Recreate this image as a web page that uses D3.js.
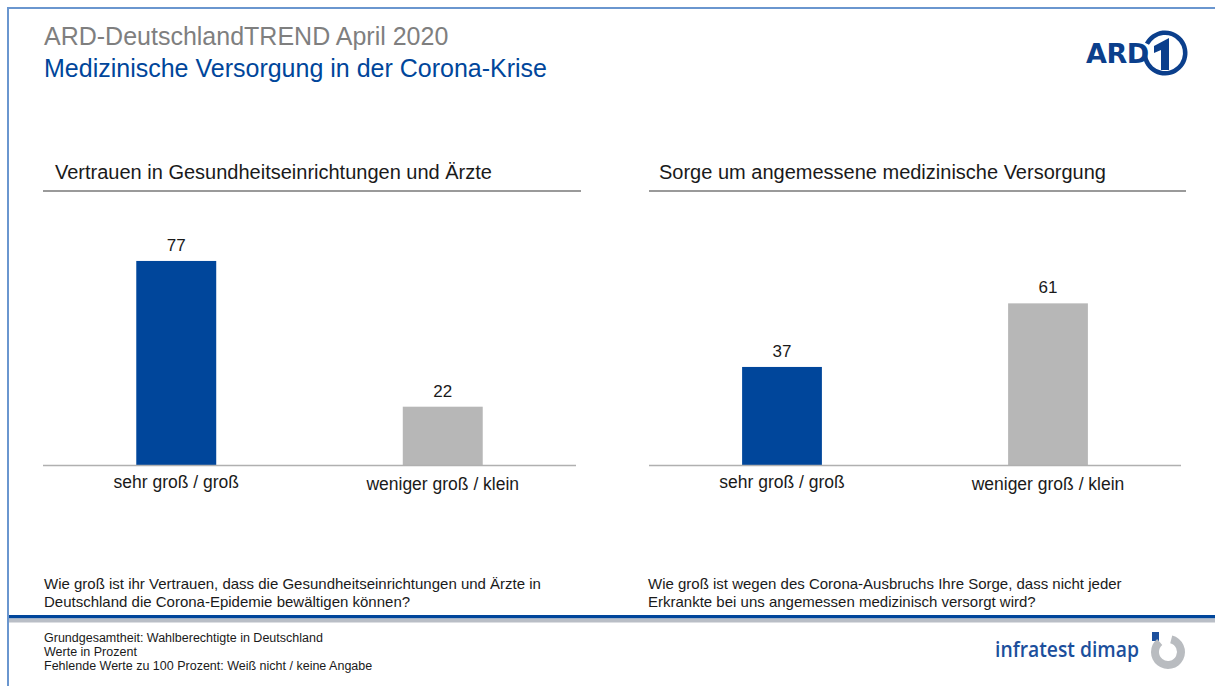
<!DOCTYPE html>
<html>
<head>
<meta charset="utf-8">
<script src="https://cdn.jsdelivr.net/npm/d3@7"></script>
<style>
  html, body { margin: 0; padding: 0; background: #fff; }
  svg { display: block; font-family: "Liberation Sans", Arial, sans-serif; }
</style>
</head>
<body>
<svg id="chart" width="1215" height="686"></svg>
<script>
// Survey answers (percent) for the two questions
const categories = ["sehr groß / groß", "weniger groß / klein"];
const trustValues = [77, 22];
const worryValues = [37, 61];
const panelTitles = [
  "Vertrauen in Gesundheitseinrichtungen und Ärzte",
  "Sorge um angemessene medizinische Versorgung"
];
const questions = [
  ["Wie groß ist ihr Vertrauen, dass die Gesundheitseinrichtungen und Ärzte in",
   "Deutschland die Corona-Epidemie bewältigen können?"],
  ["Wie groß ist wegen des Corona-Ausbruchs Ihre Sorge, dass nicht jeder",
   "Erkrankte bei uns angemessen medizinisch versorgt wird?"]
];
const footnotes = [
  "Grundgesamtheit: Wahlberechtigte in Deutschland",
  "Werte in Prozent",
  "Fehlende Werte zu 100 Prozent: Weiß nicht / keine Angabe"
];

const svg = d3.select("#chart");
const BLUE = "#00469b";
const GREY_BAR = "#b7b7b7";

// Frame: top and left rules
svg.append("rect").attr("x", 7).attr("y", 7).attr("width", 1215).attr("height", 2).attr("fill", "#6a96cf");
svg.append("rect").attr("x", 7).attr("y", 7).attr("width", 2).attr("height", 686).attr("fill", "#6a96cf");

// Header
svg.append("text").attr("x", 44).attr("y", 45).attr("font-size", 25).attr("fill", "#7f7f7f")
  .text("ARD-DeutschlandTREND April 2020");
svg.append("text").attr("x", 44).attr("y", 77).attr("font-size", 25).attr("fill", BLUE)
  .text("Medizinische Versorgung in der Corona-Krise");

// ARD logo
const ard = svg.append("g");
ard.append("text").attr("x", 1086).attr("y", 63).attr("font-size", 27).attr("font-weight", "bold")
  .attr("fill", "#0b3f8c").attr("font-family", "'DejaVu Sans', sans-serif").attr("letter-spacing", -0.5).text("ARD");
ard.append("path")
  .attr("d", d3.arc()({innerRadius: 18, outerRadius: 22.5, startAngle: -0.35 * Math.PI, endAngle: 1.55 * Math.PI}))
  .attr("transform", "translate(1165,53)").attr("fill", "#0b3f8c");
ard.append("path")
  .attr("d", "M1154,46 L1169,38 L1169,70 L1161,70 L1161,50 L1154,53 Z")
  .attr("fill", "#0b3f8c");

// Panels
const panels = [
  {x0: 43, x1: 581, titleX: 55, values: trustValues},
  {x0: 649, x1: 1186, titleX: 659, values: worryValues}
];

const y = d3.scaleLinear().domain([0, 100]).range([465, 200]);

panels.forEach((p, i) => {
  const g = svg.append("g");
  g.append("text").attr("x", p.titleX).attr("y", 179).attr("font-size", 20).attr("fill", "#1a1a1a")
    .text(panelTitles[i]);
  g.append("line").attr("x1", p.x0).attr("x2", p.x1).attr("y1", 191).attr("y2", 191)
    .attr("stroke", "#9a9a9a").attr("stroke-width", 2);

  const x = d3.scaleBand().domain(categories).range([p.x0, p.x1 - 5]).paddingInner(0.7).paddingOuter(0.35);

  g.selectAll("rect.bar").data(p.values).join("rect")
    .attr("class", "bar")
    .attr("x", (d, j) => x(categories[j]))
    .attr("width", x.bandwidth())
    .attr("y", d => y(d))
    .attr("height", d => y(0) - y(d))
    .attr("fill", (d, j) => j === 0 ? BLUE : GREY_BAR);

  g.selectAll("text.val").data(p.values).join("text")
    .attr("class", "val")
    .attr("x", (d, j) => x(categories[j]) + x.bandwidth() / 2)
    .attr("y", d => y(d) - 10)
    .attr("text-anchor", "middle").attr("font-size", 17).attr("fill", "#1a1a1a")
    .text(d => d);

  // Category axis
  const axis = g.append("g").attr("transform", `translate(0,${y(0)})`)
    .call(d3.axisBottom(x).tickSize(0).tickPadding(11));
  axis.select(".domain").attr("d", `M${p.x0},0.5H${p.x1 - 5}`).attr("stroke", "#b0b0b0").attr("stroke-width", 1.5);
  axis.selectAll(".tick text").attr("font-size", 17.5).attr("fill", "#1a1a1a")
    .attr("font-family", "'Liberation Sans', Arial, sans-serif")
    .attr("dy", (d, j) => j === 0 ? "0.71em" : "0.82em");

  // Question text
  g.selectAll("text.q").data(questions[i]).join("text")
    .attr("class", "q")
    .attr("x", i === 0 ? 44 : 648)
    .attr("y", (d, j) => 589 + j * 18)
    .attr("font-size", 15).attr("fill", "#1a1a1a")
    .text(d => d);
});

// Footer separator
svg.append("rect").attr("x", 9).attr("y", 615).attr("width", 1210).attr("height", 3.5).attr("fill", BLUE);
svg.append("rect").attr("x", 9).attr("y", 618.5).attr("width", 1210).attr("height", 4).attr("fill", "#b9bec6");

svg.selectAll("text.foot").data(footnotes).join("text")
  .attr("class", "foot")
  .attr("x", 44).attr("y", (d, j) => 642 + j * 14)
  .attr("font-size", 12.5).attr("fill", "#1a1a1a")
  .text(d => d);

// infratest dimap logo
svg.append("text").attr("x", 995).attr("y", 657).attr("font-size", 21)
  .attr("font-family", "'Open Sans', sans-serif").attr("font-weight", 600).attr("fill", "#1c4f9c")
  .attr("textLength", 144).attr("lengthAdjust", "spacingAndGlyphs")
  .text("infratest dimap");
svg.append("rect").attr("x", 1152).attr("y", 632).attr("width", 7).attr("height", 9).attr("fill", "#1c4f9c");
svg.append("path")
  .attr("d", d3.arc()({innerRadius: 9, outerRadius: 17, startAngle: 0.08 * Math.PI, endAngle: 1.78 * Math.PI}))
  .attr("transform", "translate(1168,652)").attr("fill", "#b9bcc0");
</script>
</body>
</html>
